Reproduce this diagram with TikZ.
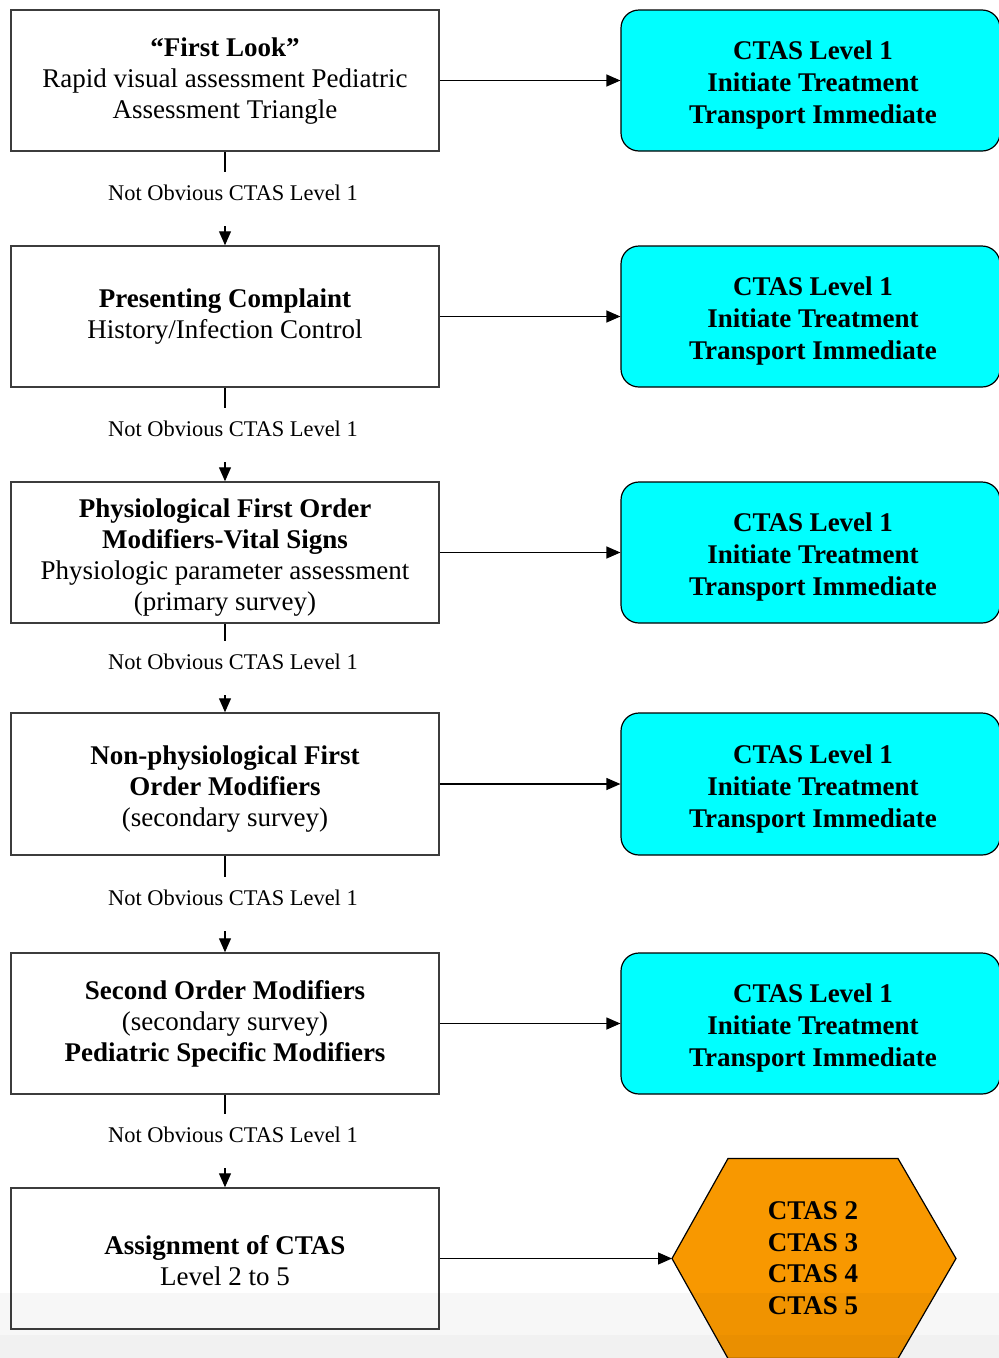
\documentclass[tikz,border=0pt]{standalone}
\usepackage{fontspec}
\setmainfont{Liberation Serif}
\usetikzlibrary{arrows.meta}
\definecolor{cyanbox}{RGB}{0,255,255}
\definecolor{hexorange}{RGB}{248,152,0}
\definecolor{boxline}{RGB}{60,60,60}
\begin{document}
\begin{tikzpicture}[x=1pt,y=-1pt,
  stepbox/.style={draw=boxline, line width=1.5pt, fill=white, minimum width=428pt, minimum height=141pt, inner sep=0pt},
  steptext/.style={align=center, inner sep=0pt, font=\fontsize{27}{31}\selectfont},
  ctasbox/.style={draw=black, line width=1.2pt, fill=cyanbox, rounded corners=18pt, minimum width=379pt, minimum height=141pt, inner sep=0pt},
  ctastext/.style={align=center, inner sep=0pt, font=\fontsize{27}{32}\selectfont\bfseries},
  lbl/.style={fill=white, text height=15pt, text depth=12pt, inner ysep=13.5pt, inner xsep=3pt, xshift=8pt, font=\fontsize{22.4}{26}\selectfont},
  arr/.style={line width=1.2pt, draw=black, -{Triangle[length=14pt,width=12pt]}},
]
\useasboundingbox (0,0) rectangle (999,1358);
\fill[white] (0,0) rectangle (999,1358);

% left column
\node[stepbox] (b1) at (225,80.5) {};
\node[stepbox] (b2) at (225,316.5) {};
\node[stepbox] (b3) at (225,552.5) {};
\node[stepbox, minimum height=142pt] (b4) at (225,784) {};
\node[stepbox] (b5) at (225,1023.5) {};
\node[stepbox] (b6) at (225,1258.5) {};
\node[steptext] (t1) at (225,81.5) {\textbf{“First Look”}\\Rapid visual assessment Pediatric\\Assessment Triangle};
\node[steptext] (t2) at (225,316.5) {\textbf{Presenting Complaint}\\History/Infection Control};
\node[steptext] (t3) at (225,557.5) {\textbf{Physiological First Order}\\\textbf{Modifiers-Vital Signs}\\Physiologic parameter assessment\\(primary survey)};
\node[steptext] (t4) at (225,789) {\textbf{Non-physiological First}\\\textbf{Order Modifiers}\\(secondary survey)};
\node[steptext] (t5) at (225,1023.5) {\textbf{Second Order Modifiers}\\(secondary survey)\\\textbf{Pediatric Specific Modifiers}};
\node[steptext] (t6) at (225,1260.5) {\textbf{Assignment of CTAS}\\Level 2 to 5};

% right column
\node[ctasbox] (c1) at (810.5,80.5) {};
\node[ctasbox] (c2) at (810.5,316.5) {};
\node[ctasbox] (c3) at (810.5,552.5) {};
\node[ctasbox, minimum height=142pt] (c4) at (810.5,784) {};
\node[ctasbox] (c5) at (810.5,1023.5) {};
\node[ctastext] (ct1) at (813,85) {CTAS Level 1\\Initiate Treatment\\Transport Immediate};
\node[ctastext] (ct2) at (813,321) {CTAS Level 1\\Initiate Treatment\\Transport Immediate};
\node[ctastext] (ct3) at (813,557) {CTAS Level 1\\Initiate Treatment\\Transport Immediate};
\node[ctastext] (ct4) at (813,788.5) {CTAS Level 1\\Initiate Treatment\\Transport Immediate};
\node[ctastext] (ct5) at (813,1028) {CTAS Level 1\\Initiate Treatment\\Transport Immediate};

% hexagon
\draw[fill=hexorange, line width=1.2pt] (728,1158.5) -- (898,1158.5) -- (956,1258.5) -- (898,1358.5) -- (728,1358.5) -- (672,1258.5) -- cycle;
\coordinate (hexW) at (672,1258.5);
\node[align=center, font=\fontsize{27}{31.5}\selectfont\bfseries] (hex) at (813,1258) {CTAS 2\\CTAS 3\\CTAS 4\\CTAS 5};

% horizontal arrows
\draw[arr] (b1.east) -- (c1.west);
\draw[arr] (b2.east) -- (c2.west);
\draw[arr] (b3.east) -- (c3.west);
\draw[arr] (b4.east) -- (c4.west);
\draw[arr] (b5.east) -- (c5.west);
\draw[arr] (b6.east) -- (hexW);

% vertical arrows
\draw[arr] (b1.south) -- node[lbl] {Not Obvious CTAS Level 1} (b2.north);
\draw[arr] (b2.south) -- node[lbl] {Not Obvious CTAS Level 1} (b3.north);
\draw[arr] (b3.south) -- node[lbl] {Not Obvious CTAS Level 1} (b4.north);
\draw[arr] (b4.south) -- node[lbl] {Not Obvious CTAS Level 1} (b5.north);
\draw[arr] (b5.south) -- node[lbl] {Not Obvious CTAS Level 1} (b6.north);

% light screenshot shading at the bottom
\fill[black, opacity=0.03] (0,1293) rectangle (999,1358);
\fill[black, opacity=0.025] (0,1335) rectangle (999,1358);
\end{tikzpicture}
\end{document}
